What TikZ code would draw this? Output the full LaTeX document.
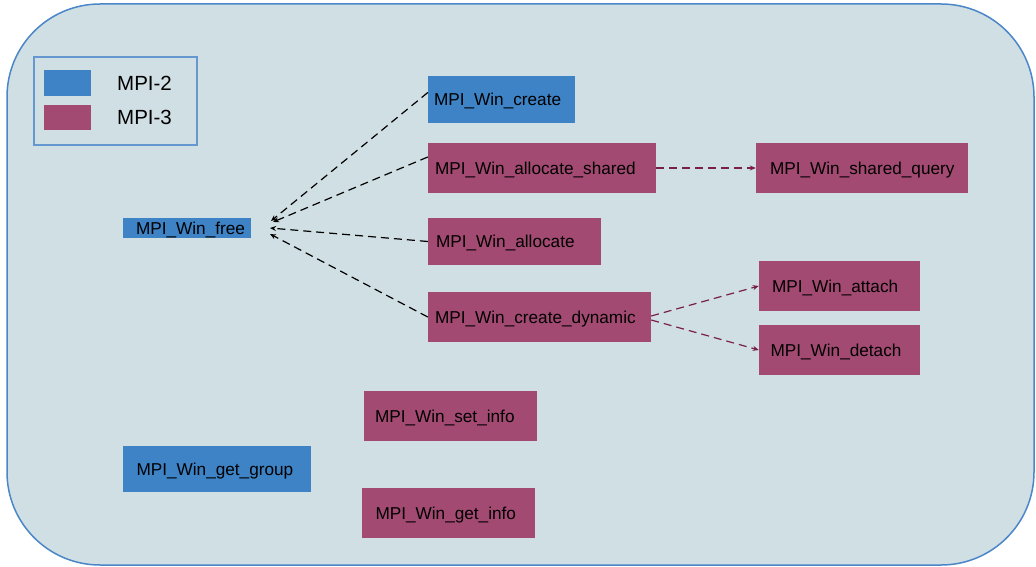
\documentclass[tikz,border=0pt]{standalone}
\usepackage{fontspec}
\setmainfont{Liberation Sans}
\usetikzlibrary{arrows.meta}
\definecolor{bgfill}{RGB}{208,223,227}
\definecolor{bgline}{RGB}{74,134,200}
\definecolor{mpitwo}{RGB}{61,131,198}
\definecolor{mpithree}{RGB}{163,74,114}
\definecolor{darkpurple}{RGB}{120,32,72}
\tikzset{
  fn/.style={font=\fontsize{17.2}{20}\selectfont, text=black, inner ysep=0pt, align=left, anchor=center, text height=12.3pt, text depth=0pt},
  mtwo/.style={fn, fill=mpitwo},
  mthree/.style={fn, fill=mpithree},
  conn/.style={dash pattern=on 8pt off 5pt, line width=1.2pt, -{Stealth[length=6pt,width=5pt]}},
  blackconn/.style={conn, draw=black},
  purpconn/.style={conn, draw=darkpurple},
  legtext/.style={font=\fontsize{20.5}{24}\selectfont, anchor=west, inner sep=0pt}
}
\begin{document}
\begin{tikzpicture}[x=1pt,y=-1pt]
\useasboundingbox (0,0) rectangle (1036,567);
\draw[fill=bgfill, draw=bgline, line width=1.5pt, rounded corners=93pt] (7,4) rectangle (1034,565);
% legend
\node[draw=bgline!85, line width=1.5pt, minimum width=163pt, minimum height=88pt, inner sep=0pt] (legend) at (115.5,101) {};
\node[fill=mpitwo, minimum width=47pt, minimum height=26pt, inner sep=0pt] (sw2) at (67.5,83) {};
\node[fill=mpithree, minimum width=47pt, minimum height=25pt, inner sep=0pt] (sw3) at (67.5,117.5) {};
\node[legtext] (l2) at (117,83) {MPI-2};
\node[legtext] (l3) at (117,117) {MPI-3};
% nodes
\node[mtwo, minimum width=128pt, minimum height=20pt, inner xsep=13pt, text width=102pt] (free) at (187,228) {MPI\_Win\_free};
\node[mtwo, minimum width=147pt, minimum height=47pt, inner xsep=6pt, text width=135pt] (create) at (501.5,99.5) {MPI\_Win\_create};
\node[mthree, minimum width=228pt, minimum height=50pt, inner xsep=7pt, text width=214pt] (ashared) at (542,168) {MPI\_Win\_allocate\_shared};
\node[mthree, minimum width=212pt, minimum height=50pt, inner xsep=14pt, text width=184pt] (squery) at (862,168) {MPI\_Win\_shared\_query};
\node[mthree, minimum width=173pt, minimum height=47pt, inner xsep=8pt, text width=157pt] (alloc) at (514.5,241.5) {MPI\_Win\_allocate};
\node[mthree, minimum width=223pt, minimum height=50pt, inner xsep=7pt, text width=209pt] (cdyn) at (539.5,317) {MPI\_Win\_create\_dynamic};
\node[mthree, minimum width=161pt, minimum height=50pt, inner xsep=13pt, text width=135pt] (attach) at (839.5,286) {MPI\_Win\_attach};
\node[mthree, minimum width=161pt, minimum height=50pt, inner xsep=11.5pt, text width=138pt] (detach) at (839.5,350) {MPI\_Win\_detach};
\node[mthree, minimum width=173pt, minimum height=50pt, inner xsep=11pt, text width=151pt] (setinfo) at (450.5,416) {MPI\_Win\_set\_info};
\node[mtwo, minimum width=188pt, minimum height=46pt, inner xsep=13.5pt, text width=161pt] (getgroup) at (217,469) {MPI\_Win\_get\_group};
\node[mthree, minimum width=173pt, minimum height=50pt, inner xsep=13.5pt, text width=146pt] (getinfo) at (448.5,513) {MPI\_Win\_get\_info};
% arrow targets near MPI_Win_free
\coordinate (t1) at (271,221);
\coordinate (t2) at (273,222);
\coordinate (t3) at (270,228);
\coordinate (t4) at (270,234);
\draw[blackconn] ([yshift=7pt]create.west) -- (t1);
\draw[blackconn] ([yshift=11pt]ashared.west) -- (t2);
\draw[blackconn] (alloc.west) -- (t3);
\draw[blackconn] (cdyn.west) -- (t4);
\draw[purpconn] (ashared.east) -- (squery.west);
\draw[purpconn] ([yshift=1pt]cdyn.east) -- (attach.west);
\draw[purpconn] ([yshift=-3pt]cdyn.east) -- (detach.west);
\end{tikzpicture}
\end{document}
